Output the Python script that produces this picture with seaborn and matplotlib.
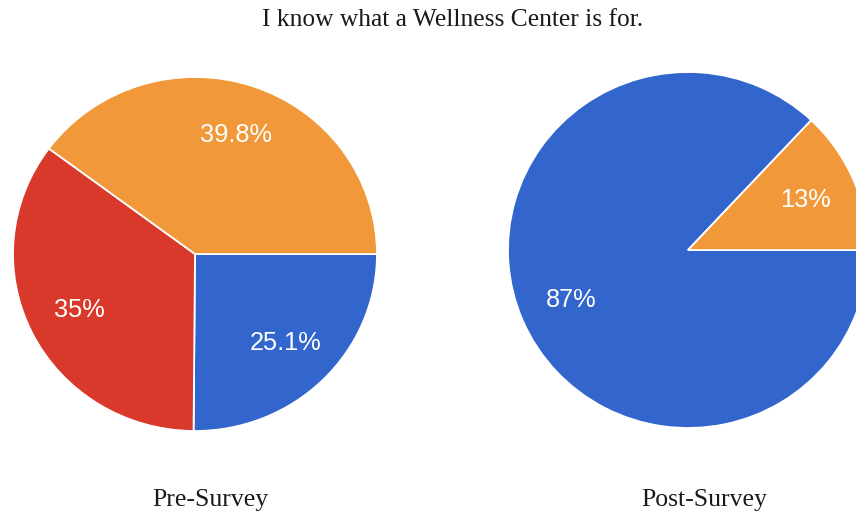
import matplotlib
matplotlib.use("Agg")
import matplotlib.pyplot as plt
import seaborn as sns

# Survey responses: "I know what a Wellness Center is for."
title = "I know what a Wellness Center is for."
pre_label = "Pre-Survey"
post_label = "Post-Survey"

pre_categories = ["Agree", "Neutral", "Disagree"]
pre_values = [25.1, 35.0, 39.8]

post_categories = ["Agree", "Disagree"]
post_values = [87.0, 13.0]

sns.set_theme(style="white")
plt.rcParams["font.family"] = ["Liberation Sans", "DejaVu Sans"]

blue, red, orange = "#3366cc", "#d9392a", "#f1993a"
pre_colors = [blue, red, orange]
post_colors = [blue, orange]

W, H = 856, 517
fig = plt.figure(figsize=(W / 100, H / 100), dpi=100)


def pie_axes(cx, cy, rx, ry):
    # axes box in pixels (origin top-left) -> figure fraction
    return fig.add_axes([(cx - rx) / W, (H - (cy + ry)) / H, 2 * rx / W, 2 * ry / H])


def draw_pie(ax, values, colors):
    it = iter(values)
    ax.pie(values, colors=colors, startangle=0, counterclock=False,
           autopct=lambda p: f"{next(it):g}%", pctdistance=0.71,
           wedgeprops=dict(edgecolor="white", linewidth=1.3),
           textprops=dict(color="white", fontsize=18.3))
    ax.set_aspect("auto")
    ax.set_xlim(-1.0, 1.0)
    ax.set_ylim(-1.0, 1.0)
    ax.axis("off")


ax_pre = pie_axes(195, 254, 182, 177)
draw_pie(ax_pre, pre_values, pre_colors)

ax_post = pie_axes(688, 250, 180, 178)
draw_pie(ax_post, post_values, post_colors)

serif = ["Liberation Serif", "DejaVu Serif"]
fig.text(453 / W, 1 - 20 / H, title, ha="center", va="center",
         family=serif, fontsize=18.4, color="#1a1a1a")
fig.text(210 / W, 1 - 500 / H, pre_label, ha="center", va="center",
         family=serif, fontsize=18.5, color="#1a1a1a")
fig.text(704 / W, 1 - 500 / H, post_label, ha="center", va="center",
         family=serif, fontsize=18.5, color="#1a1a1a")

fig.savefig("out.png", dpi=100, facecolor="white")
